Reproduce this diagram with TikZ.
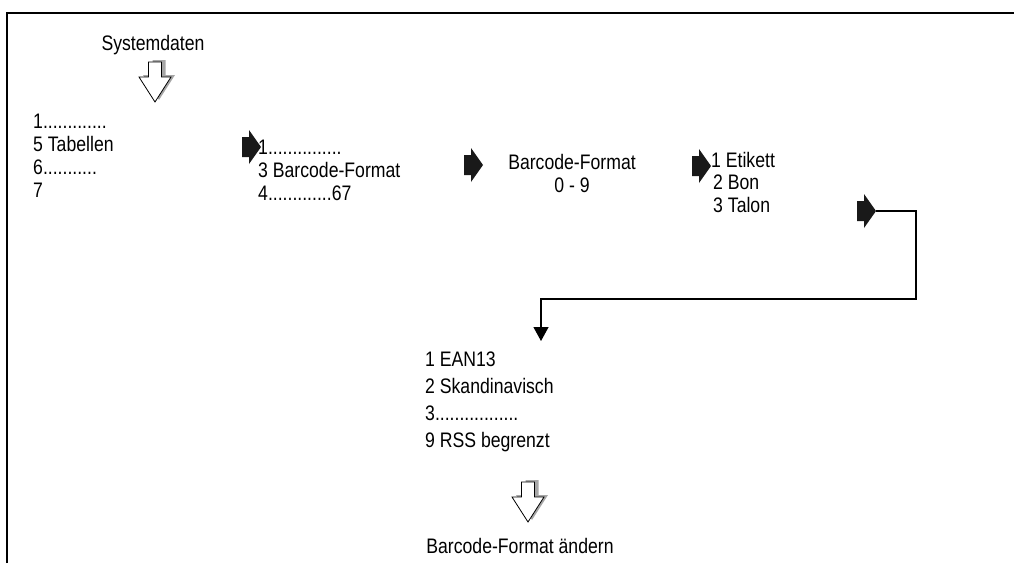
\documentclass[tikz,border=0pt]{standalone}
\usepackage{fontspec}
\setmainfont{Liberation Sans}[FakeStretch=0.84]
\usetikzlibrary{arrows.meta}
\begin{document}
\begin{tikzpicture}[x=1pt,y=-1pt,
  txt/.style={font=\fontsize{21}{24}\selectfont, inner sep=0pt, text height=15pt, text depth=0pt, anchor=west},
  ctxt/.style={txt, anchor=center},
  blkarrow/.pic={\fill[black!90] (0,0) -- (-12,-17) -- (-12,-10) -- (-19,-10) -- (-19,10) -- (-12,10) -- (-12,17) -- cycle;},
  hollowarrow/.pic={
    \fill[gray!70] (4,-2) -- ++(-16,-25) -- ++(9.5,0) -- ++(0,-15) -- ++(13,0) -- ++(0,15) -- ++(9.5,0) -- cycle;
    \draw[fill=white, line width=0.8pt] (0,0) -- (-16,-25) -- (-6.5,-25) -- (-6.5,-40) -- (6.5,-40) -- (6.5,-25) -- (16,-25) -- cycle;}
]
\useasboundingbox (0,0) rectangle (1014,563);
\draw[line width=1.6pt] (7,563) -- (7,13) -- (1014,13);

\node[ctxt] (sys) at (153,43) {Systemdaten};
\pic at (155,102) {hollowarrow};

\node[txt] (l1) at (33,121) {1.............};
\node[txt] (l2) at (33,144) {5 Tabellen};
\node[txt] (l3) at (33,167) {6...........};
\node[txt] (l4) at (33,190) {7};

\pic at (261,147) {blkarrow};
\node[txt] (m1) at (258,147) {1...............};
\node[txt] (m2) at (258,170) {3 Barcode-Format};
\node[txt] (m3) at (258,193) {4.............67};

\pic at (483,165) {blkarrow};
\node[ctxt] (bf) at (572,162) {Barcode-Format};
\node[ctxt] (bf09) at (572,185) {0 - 9};

\pic at (711,166) {blkarrow};
\node[txt] (e1) at (711,160) {1 Etikett};
\node[txt] (e2) at (713,182) {2 Bon};
\node[txt] (e3) at (713,205) {3 Talon};

\pic at (876,211) {blkarrow};
\coordinate (a4tip) at (876,211);
\coordinate (bendtop) at (916,211);
\coordinate (target) at (541,341);
\draw[line width=1.2pt, -{Triangle[length=14pt,width=15pt]}] (a4tip) -- (bendtop) -- (916,299) -| (target);

\node[txt] (b1) at (425,359) {1 EAN13};
\node[txt] (b2) at (425,386) {2 Skandinavisch};
\node[txt] (b3) at (425,413) {3.................};
\node[txt] (b4) at (425,440) {9 RSS begrenzt};

\pic at (528,522) {hollowarrow};
\node[ctxt] (bfa) at (520,546) {Barcode-Format ändern};
\end{tikzpicture}
\end{document}
